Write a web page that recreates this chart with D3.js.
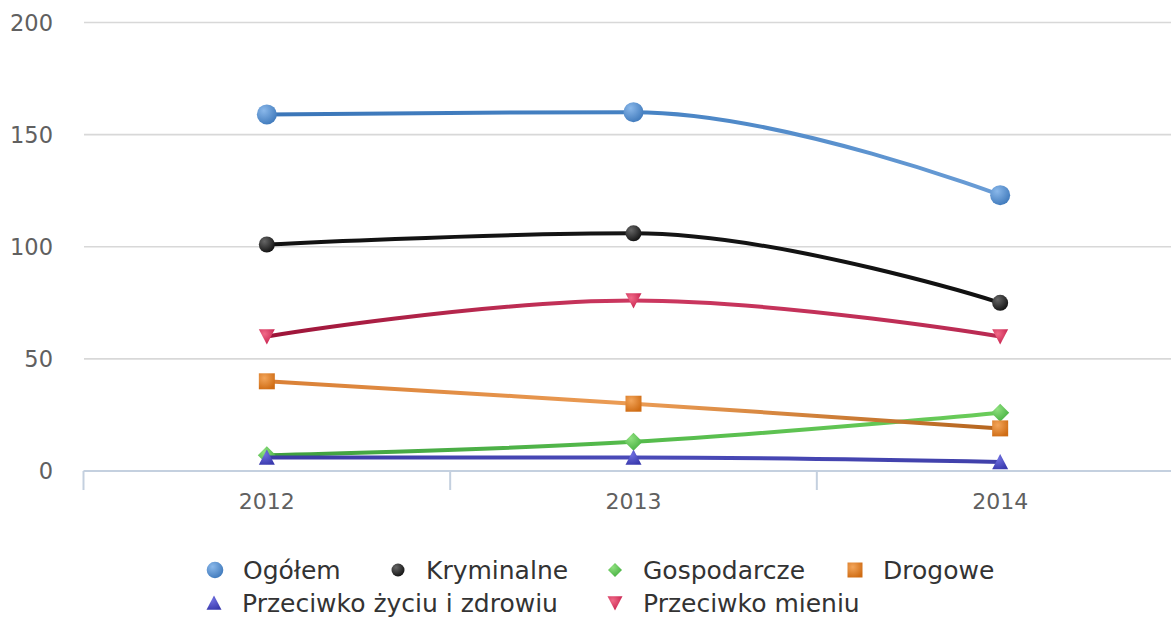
<!DOCTYPE html>
<html>
<head>
<meta charset="utf-8">
<script src="https://cdn.jsdelivr.net/npm/d3@7"></script>
<style>
  body { margin: 0; background: #fff; }
  svg { display: block; font-family: "DejaVu Sans", sans-serif; }
</style>
</head>
<body>
<div id="chart"></div>
<script>
// dane
var years = ["2012", "2013", "2014"];
var seriesNames = ["Ogółem", "Kryminalne", "Gospodarcze", "Drogowe", "Przeciwko życiu i zdrowiu", "Przeciwko mieniu"];
var ogolem = [159, 160, 123];
var kryminalne = [101, 106, 75];
var gospodarcze = [7, 13, 26];
var drogowe = [40, 30, 19];
var zycie = [6, 6, 4];
var mienie = [60, 76, 60];
var yTicks = [0, 50, 100, 150, 200];

var W = 1171, H = 622;

// wygląd serii (kolor linii jako gradient, symbol, kolory znacznika)
var styles = [
  { values: ogolem,      symbol: "circle",   size: 10, line: ["#3b76b8", "#4682c3", "#6a9dd6"], mk: ["#8ab8ea", "#3f79bb"] },
  { values: kryminalne,  symbol: "circle",   size: 8,  line: ["#111", "#151515", "#111"],       mk: ["#666", "#111"] },
  { values: gospodarcze, symbol: "diamond",  size: 9,  line: ["#3f9f3f", "#55bb4c", "#6acc5a"], mk: ["#8fe07f", "#45b040"] },
  { values: drogowe,     symbol: "square",   size: 8,  line: ["#d98036", "#eb9c55", "#b5651f"], mk: ["#f3a55a", "#cf6c14"] },
  { values: zycie,       symbol: "triangle", size: 8,  line: ["#3c3ca6", "#4a4ab8", "#4040aa"], mk: ["#7070e0", "#3a3aae"] },
  { values: mienie,      symbol: "triangle-down", size: 8, line: ["#9c1438", "#cc3860", "#b92a52"], mk: ["#f06a88", "#c61f4c"] }
];

var svg = d3.select("#chart").append("svg")
    .attr("width", W)
    .attr("height", H);

var defs = svg.append("defs");

var x = d3.scaleBand().domain(years).range([83.5, 1183.5]);
var y = d3.scaleLinear().domain([0, 200]).range([471, 22.5]);

// siatka pozioma
svg.append("g").selectAll("line")
  .data(yTicks.filter(function(d){ return d > 0; }))
  .enter().append("line")
    .attr("x1", 84).attr("x2", W)
    .attr("y1", function(d){ return y(d); })
    .attr("y2", function(d){ return y(d); })
    .attr("stroke", "#d8d8d8")
    .attr("stroke-width", 1.6);

// etykiety osi Y
svg.append("g").selectAll("text")
  .data(yTicks)
  .enter().append("text")
    .attr("x", 53)
    .attr("y", function(d){ return y(d); })
    .attr("dy", "0.36em")
    .attr("text-anchor", "end")
    .attr("font-size", 22.5)
    .attr("fill", "#606060")
    .text(function(d){ return d; });

// oś X
var xAxis = svg.append("g").attr("transform", "translate(0," + y(0) + ")")
    .call(d3.axisBottom(x).tickSize(0).tickPadding(22));
xAxis.select(".domain").remove();
xAxis.selectAll("text").attr("font-size", 22).attr("fill", "#606060")
    .attr("font-family", "DejaVu Sans, sans-serif");
svg.append("line")
    .attr("x1", 83.5).attr("x2", W)
    .attr("y1", y(0)).attr("y2", y(0))
    .attr("stroke", "#c4d0df").attr("stroke-width", 2);
var bounds = years.map(function(d){ return x(d); }).concat([x(years[years.length-1]) + x.bandwidth()]);
svg.append("g").selectAll("line")
  .data(bounds)
  .enter().append("line")
    .attr("x1", function(d){ return d; })
    .attr("x2", function(d){ return d; })
    .attr("y1", y(0)).attr("y2", y(0) + 19)
    .attr("stroke", "#c4d0df").attr("stroke-width", 2);

// spline jak w Highcharts (smoothing 1.5)
function splinePath(pts) {
  var p = d3.path();
  var sm = 1.5, den = sm + 1;
  p.moveTo(pts[0][0], pts[0][1]);
  var prevRight = null;
  for (var i = 1; i < pts.length; i++) {
    var cur = pts[i], last = pts[i-1], next = pts[i+1];
    var lcx = cur[0], lcy = cur[1], rc = null;
    if (next) {
      lcx = (sm * cur[0] + last[0]) / den;
      lcy = (sm * cur[1] + last[1]) / den;
      var rcx = (sm * cur[0] + next[0]) / den;
      var rcy = (sm * cur[1] + next[1]) / den;
      var corr = ((rcy - lcy) * (rcx - cur[0])) / (rcx - lcx) + cur[1] - rcy;
      lcy += corr; rcy += corr;
      if (lcy > last[1] && lcy > cur[1]) { lcy = Math.max(last[1], cur[1]); rcy = 2 * cur[1] - lcy; }
      else if (lcy < last[1] && lcy < cur[1]) { lcy = Math.min(last[1], cur[1]); rcy = 2 * cur[1] - lcy; }
      if (rcy > next[1] && rcy > cur[1]) { rcy = Math.max(next[1], cur[1]); lcy = 2 * cur[1] - rcy; }
      else if (rcy < next[1] && rcy < cur[1]) { rcy = Math.min(next[1], cur[1]); lcy = 2 * cur[1] - rcy; }
      rc = [rcx, rcy];
    }
    var c1 = prevRight || last;
    p.bezierCurveTo(c1[0], c1[1], lcx, lcy, cur[0], cur[1]);
    prevRight = rc;
  }
  return p.toString();
}

function symbolPath(type, cx, cy, s) {
  var p = d3.path();
  if (type === "circle") {
    p.arc(cx, cy, s, 0, 2 * Math.PI);
  } else if (type === "square") {
    p.rect(cx - s, cy - s, 2 * s, 2 * s);
  } else if (type === "diamond") {
    p.moveTo(cx, cy - s); p.lineTo(cx + s, cy); p.lineTo(cx, cy + s); p.lineTo(cx - s, cy); p.closePath();
  } else if (type === "triangle") {
    p.moveTo(cx, cy - s); p.lineTo(cx + s, cy + s * 0.9); p.lineTo(cx - s, cy + s * 0.9); p.closePath();
  } else {
    p.moveTo(cx - s, cy - s * 0.9); p.lineTo(cx + s, cy - s * 0.9); p.lineTo(cx, cy + s); p.closePath();
  }
  return p.toString();
}

styles.forEach(function(st, i) {
  var lg = defs.append("linearGradient").attr("id", "lg" + i)
      .attr("gradientUnits", "userSpaceOnUse")
      .attr("x1", x(years[0]) + x.bandwidth() / 2).attr("x2", x(years[2]) + x.bandwidth() / 2)
      .attr("y1", 0).attr("y2", 0);
  st.line.forEach(function(c, k) {
    lg.append("stop").attr("offset", k / (st.line.length - 1)).attr("stop-color", c);
  });
  var rg = defs.append("radialGradient").attr("id", "mg" + i)
      .attr("cx", "0.35").attr("cy", "0.3").attr("r", "0.75");
  rg.append("stop").attr("offset", 0).attr("stop-color", st.mk[0]);
  rg.append("stop").attr("offset", 1).attr("stop-color", st.mk[1]);
});

var plot = svg.append("g");

styles.forEach(function(st, i) {
  var pts = st.values.map(function(v, k){ return [x(years[k]) + x.bandwidth() / 2, y(v)]; });
  var g = plot.append("g").attr("class", "series");
  g.append("path")
    .attr("d", splinePath(pts))
    .attr("fill", "none")
    .attr("stroke", "url(#lg" + i + ")")
    .attr("stroke-width", 4)
    .attr("stroke-linejoin", "round");
  g.selectAll(".pt")
    .data(pts)
    .enter().append("path")
      .attr("class", "pt")
      .attr("d", function(d){ return symbolPath(st.symbol, d[0], d[1], st.size); })
      .attr("fill", "url(#mg" + i + ")");
});

// legenda: pozycje znaczników, tekst 28 px dalej
var legendPos = [
  [215, 570], [398, 570], [615, 570], [855, 570],
  [214, 603], [615, 603]
];
var legendSize = [8.3, 6.5, 7, 7.5, 7.5, 7.5];
var legend = svg.append("g");
seriesNames.forEach(function(name, i) {
  var pos = legendPos[i];
  legend.append("path")
    .attr("d", symbolPath(styles[i].symbol, pos[0], pos[1], legendSize[i]))
    .attr("fill", "url(#mg" + i + ")");
  legend.append("text")
    .attr("x", pos[0] + 28)
    .attr("y", pos[1])
    .attr("dy", "0.36em")
    .attr("font-size", 25)
    .attr("fill", "#333")
    .text(name);
});
</script>
</body>
</html>
